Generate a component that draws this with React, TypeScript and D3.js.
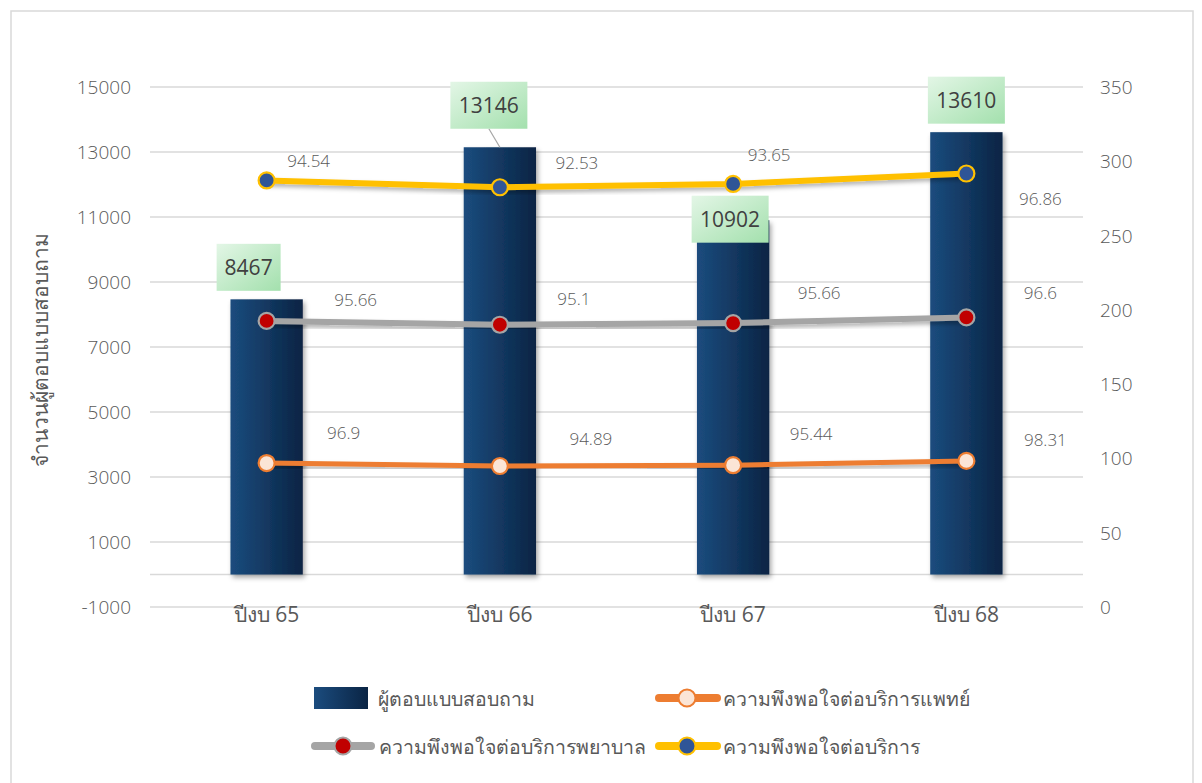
import React from "react";
import * as d3 from "d3";

const categories = ["ปีงบ 65", "ปีงบ 66", "ปีงบ 67", "ปีงบ 68"];
const respondents = [8467, 13146, 10902, 13610];
const doctorSat = [96.9, 94.89, 95.44, 98.31];
const nurseSat = [95.66, 95.1, 95.66, 96.6];
const serviceSat = [94.54, 92.53, 93.65, 96.86];
const leftTicks = [-1000, 1000, 3000, 5000, 7000, 9000, 11000, 13000, 15000];
const rightTicks = [0, 50, 100, 150, 200, 250, 300, 350];
const seriesNames = [
  "ผู้ตอบแบบสอบถาม",
  "ความพึงพอใจต่อบริการแพทย์",
  "ความพึงพอใจต่อบริการพยาบาล",
  "ความพึงพอใจต่อบริการ",
];
const yTitle = "จำนวนผู้ตอบแบบสอบถาม";

// manual label placement (layout, relative to mark)
const barLabelOffsets = [
  [-18, -32],
  [-11, -42],
  [-3, -1],
  [0, -32],
];
const lineLabelOffsets = [
  [[77, -31], [91, -28], [78, -32], [79, -21]],
  [[89, -21], [74, -26], [86, -31], [74, -25]],
  [[42, -20], [77, -25], [36, -29], [74, 25]],
];

const W = 1202;
const H = 783;
const FONT = "'Open Sans', 'Noto Sans', sans-serif";
const TXT = "#595959";

export default function App() {
  const x = d3.scaleBand<string>().domain(categories).range([150, 1083]).paddingInner(0.69).paddingOuter(0.345);
  const yL = d3.scaleLinear().domain([-1000, 15000]).range([607, 87]);
  const yR = d3.scaleLinear().domain([0, 350]).range([607, 87]);

  const table = categories.map((c, i) => ({
    cat: c,
    doctor: doctorSat[i],
    nurse: nurseSat[i],
    service: serviceSat[i],
  }));
  const keys = ["doctor", "nurse", "service"];
  const stacked = d3.stack<any>().keys(keys)(table);
  const lineStyles = [
    { stroke: "#ED7D31", fill: "#FBE5D6", width: 5 },
    { stroke: "#A5A5A5", fill: "#C00000", width: 6 },
    { stroke: "#FFC000", fill: "#2F5597", width: 6 },
  ];
  const rawValues = [doctorSat, nurseSat, serviceSat];
  const cx = (c: string) => (x(c) as number) + x.bandwidth() / 2;
  const line = d3
    .line<any>()
    .x((d) => cx(d.data.cat))
    .y((d) => yR(d[1]));

  return (
    <svg
      width={W}
      height={H}
      style={{ position: "absolute", left: 0, top: 0, background: "#fff" }}
      fontFamily={FONT}
      fontWeight={300}
    >
      <defs>
        <linearGradient id="barGrad" x1="0" x2="1" y1="0" y2="0">
          <stop offset="0" stopColor="#1B4C7E" />
          <stop offset="1" stopColor="#0A2444" />
        </linearGradient>
        <linearGradient id="lblGrad" x1="0" x2="1" y1="0" y2="1">
          <stop offset="0" stopColor="#E3F6E6" />
          <stop offset="1" stopColor="#A3E0AD" />
        </linearGradient>
        <filter id="shadow" x="-30%" y="-30%" width="160%" height="160%">
          <feDropShadow dx="2" dy="3" stdDeviation="2.5" floodColor="#000" floodOpacity="0.35" />
        </filter>
        <filter id="lshadow" x="-10%" y="-50%" width="120%" height="200%">
          <feDropShadow dx="1" dy="3" stdDeviation="2" floodColor="#000" floodOpacity="0.3" />
        </filter>
      </defs>
      <rect x={11} y={11} width={1182} height={790} fill="#fff" stroke="#D9D9D9" strokeWidth={1.5} />

      {/* gridlines */}
      {leftTicks.map((t) => (
        <line key={t} x1={150} x2={1083} y1={yL(t)} y2={yL(t)} stroke="#D9D9D9" strokeWidth={1.5} />
      ))}
      <line x1={150} x2={1083} y1={yL(0)} y2={yL(0)} stroke="#D9D9D9" strokeWidth={1.5} />

      {/* left axis labels */}
      {leftTicks.map((t) => (
        <text key={t} x={131} y={yL(t)} textAnchor="end" dominantBaseline="central" fontSize={19} fill={TXT}>
          {t}
        </text>
      ))}
      {/* right axis labels */}
      {rightTicks.map((t) => (
        <text key={t} x={1100} y={yR(t)} textAnchor="start" dominantBaseline="central" fontSize={19} fill={TXT}>
          {t}
        </text>
      ))}
      <text
        transform={`translate(40,350) rotate(-90)`}
        textAnchor="middle"
        dominantBaseline="central"
        fontSize={21}
        fontWeight={400}
        fill={TXT}
      >
        {yTitle}
      </text>

      {/* bars */}
      {categories.map((c, i) => (
        <rect
          key={c}
          x={x(c)}
          y={yL(respondents[i])}
          width={x.bandwidth()}
          height={yL(0) - yL(respondents[i])}
          fill="url(#barGrad)"
          filter="url(#shadow)"
        />
      ))}

      {/* x labels */}
      {categories.map((c) => (
        <text key={c} x={cx(c)} y={614} textAnchor="middle" dominantBaseline="central" fontSize={21} fontWeight={400} fill={TXT}>
          {c}
        </text>
      ))}

      {/* lines */}
      {stacked.map((s, si) => (
        <g key={s.key}>
          <path
            d={line(s as any) || ""}
            fill="none"
            stroke={lineStyles[si].stroke}
            strokeWidth={lineStyles[si].width}
            strokeLinecap="round"
            filter="url(#lshadow)"
          />
          {s.map((d: any, i: number) => (
            <circle
              key={i}
              cx={cx(d.data.cat)}
              cy={yR(d[1])}
              r={8}
              fill={lineStyles[si].fill}
              stroke={lineStyles[si].stroke}
              strokeWidth={2.2}
            />
          ))}
          {s.map((d: any, i: number) => (
            <text
              key={"t" + i}
              x={cx(d.data.cat) + lineLabelOffsets[si][i][0]}
              y={yR(d[1]) + lineLabelOffsets[si][i][1]}
              textAnchor="middle"
              dominantBaseline="central"
              fontSize={17}
              fill={TXT}
            >
              {rawValues[si][i]}
            </text>
          ))}
        </g>
      ))}

      {/* bar labels */}
      {categories.map((c, i) => {
        const bx = cx(c) + barLabelOffsets[i][0];
        const by = yL(respondents[i]) + barLabelOffsets[i][1];
        const label = String(respondents[i]);
        const bw = label.length * 13 + 12;
        const bh = 47;
        return (
          <g key={c}>
            {i === 1 && (
              <line x1={bx} y1={by + bh / 2} x2={cx(c)} y2={yL(respondents[i])} stroke="#A6A6A6" strokeWidth={1.2} />
            )}
            <rect x={bx - bw / 2} y={by - bh / 2} width={bw} height={bh} fill="url(#lblGrad)" />
            <text x={bx} y={by} textAnchor="middle" dominantBaseline="central" fontSize={21} fontWeight={500} fill="#404040">
              {label}
            </text>
          </g>
        );
      })}

      {/* legend */}
      <g fontSize={19.5} fontWeight={400} fill={TXT}>
        <rect x={314} y={687} width={54} height={22} fill="url(#barGrad)" />
        <text x={378} y={698} dominantBaseline="central" fill={TXT}>{seriesNames[0]}</text>

        <line x1={659} x2={717} y1={698} y2={698} stroke={lineStyles[0].stroke} strokeWidth={8} strokeLinecap="round" />
        <circle cx={687} cy={698} r={8.5} fill={lineStyles[0].fill} stroke={lineStyles[0].stroke} strokeWidth={2} />
        <text x={723} y={698} dominantBaseline="central" fill={TXT}>{seriesNames[1]}</text>

        <line x1={315} x2={371} y1={746} y2={746} stroke={lineStyles[1].stroke} strokeWidth={8} strokeLinecap="round" />
        <circle cx={343} cy={746} r={8.5} fill={lineStyles[1].fill} stroke={lineStyles[1].stroke} strokeWidth={2} />
        <text x={379} y={746} dominantBaseline="central" fill={TXT}>{seriesNames[2]}</text>

        <line x1={659} x2={717} y1={746} y2={746} stroke={lineStyles[2].stroke} strokeWidth={8} strokeLinecap="round" />
        <circle cx={687} cy={746} r={8.5} fill={lineStyles[2].fill} stroke={lineStyles[2].stroke} strokeWidth={2} />
        <text x={723} y={746} dominantBaseline="central" fill={TXT}>{seriesNames[3]}</text>
      </g>
    </svg>
  );
}
